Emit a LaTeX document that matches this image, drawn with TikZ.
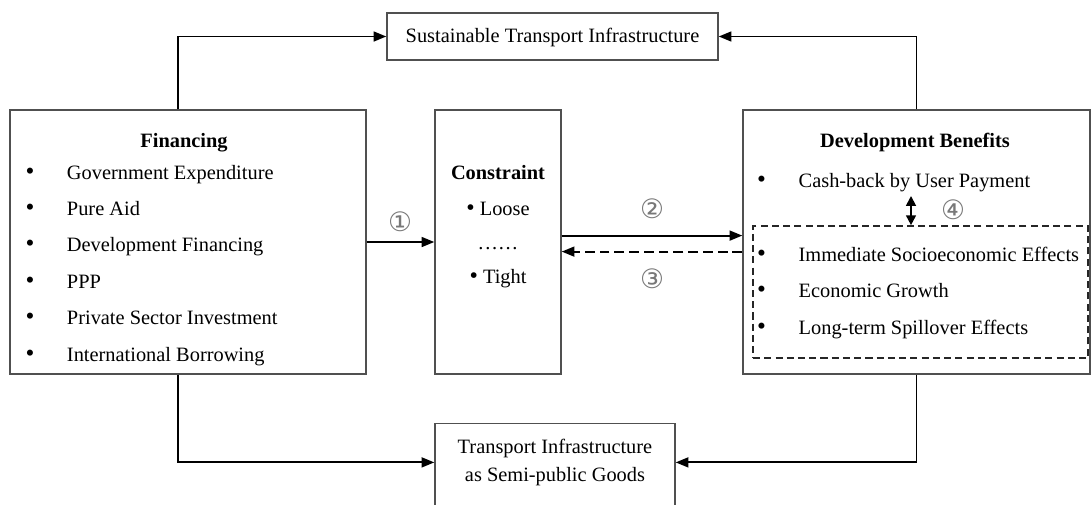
\documentclass[tikz,border=0pt]{standalone}
\usepackage{fontspec}
\setmainfont{Liberation Serif}
\newfontfamily\circfont{DejaVu Sans}
\usetikzlibrary{positioning, arrows.meta, calc}
\definecolor{FrameGray}{RGB}{80,80,80}
\definecolor{NumGray}{RGB}{120,120,120}

\begin{document}
\begin{tikzpicture}[
          bx/.style={rectangle, draw=FrameGray, line width=1pt, inner sep=0pt},
          dbx/.style={rectangle, draw=black!85, line width=1.2pt,
                      dash pattern=on 5pt off 3pt, inner sep=0pt},
          txt/.style={font=\fontsize{14.5}{17}\selectfont, inner sep=0pt,
                      text height=11pt, text depth=2pt},
          hd/.style={txt, font=\fontsize{14.5}{17}\selectfont\bfseries},
          item/.style={txt, anchor=west},
          dot/.style={txt, font=\fontsize{18}{17}\selectfont},
          num/.style={font=\circfont\fontsize{19}{20}\selectfont, text=NumGray,
                      inner sep=0pt},
          arr/.style={-{Triangle[length=9pt, width=7pt]}, line width=1.4pt},
          darr/.style={arr, dash pattern=on 7pt off 3.5pt},
          dbl/.style={{Triangle[length=7pt, width=7pt]}-{Triangle[length=7pt, width=7pt]},
                      line width=1.3pt}
        ]
        \useasboundingbox (0,0) rectangle (27.275,12.6);

        % boxes
        \node[bx, minimum width=8.275cm, minimum height=1.175cm, txt]
              (sti)  at (13.8125, 11.6875) {Sustainable Transport Infrastructure};
        \node[bx, minimum width=8.9cm, minimum height=6.6cm]
              (fin)  at (4.7, 6.55) {};
        \node[bx, minimum width=3.15cm, minimum height=6.6cm]
              (con)  at (12.45, 6.55) {};
        \node[bx, minimum width=8.675cm, minimum height=6.6cm]
              (dev)  at (22.9125, 6.55) {};
        \node[dbx, minimum width=8.375cm, minimum height=3.3cm]
              (effbox) at (23.0125, 5.3) {};
        \node[bx, minimum width=6cm, minimum height=2.4cm, anchor=north]
              (goods) at (13.875, 2.025) {};
        \node[font=\fontsize{14.5}{20.5}\selectfont, align=center, inner sep=0pt]
              (goods-txt) at (13.875, 1.04)
              {Transport Infrastructure\\as Semi-public Goods};

        % financing
        \node[hd] (fin-hd) at (4.6, 9.08) {Financing};
        \foreach \lbl [count=\i] in {Government Expenditure, Pure Aid,
            Development Financing, PPP, Private Sector Investment,
            International Borrowing}{
          \node[dot] (fin-dot-\i) at (0.75, {9.1925-0.91*\i}) {•};
          \node[item] (fin-\i) at (1.667, {9.1925-0.91*\i}) {\lbl};
        }

        % constraint
        \node[hd] (con-hd)    at (12.45, 8.275) {Constraint};
        \node[txt] (loose)    at (12.45, 7.365) {{\fontsize{17}{17}\selectfont•} Loose};
        \node[txt] (con-dots) at (12.45, 6.53)  {.\kern1.2pt.\kern1.2pt.\kern1.2pt.\kern1.2pt.\kern1.2pt.};
        \node[txt] (tight)    at (12.45, 5.68)  {{\fontsize{17}{17}\selectfont•} Tight};

        % development benefits
        \node[hd] (dev-hd) at (22.875, 9.06) {Development Benefits};
        \node[dot]  (cash-dot) at (19.04, 8.06) {•};
        \node[item] (cash)     at (19.96, 8.06) {Cash-back by User Payment};
        \foreach \lbl [count=\i] in {Immediate Socioeconomic Effects,
            Economic Growth, Long-term Spillover Effects}{
          \node[dot] (eff-dot-\i) at (19.04, {7.14-0.915*\i}) {•};
          \node[item] (eff-\i) at (19.96, {7.14-0.915*\i}) {\lbl};
        }

        % numbers
        \node[num] (num-1) at (10.0, 7.05)   {①};
        \node[num] (num-2) at (16.3, 7.375)  {②};
        \node[num] (num-3) at (16.3, 5.625)  {③};
        \node[num] (num-4) at (23.825, 7.35) {④};

        % connectors
        \draw[arr] ([xshift=-0.25cm]fin.north) |- (sti.west);
        \draw[arr] (dev.north) |- (sti.east);
        \draw[arr] ([xshift=-0.25cm]fin.south) |- (goods.west |- goods-txt);
        \draw[arr] (dev.south) |- (goods.east |- goods-txt);
        \draw[arr] (fin) -- (con);

        \coordinate (c2) at ([yshift=0.16cm]con.east);
        \coordinate (c3) at ([yshift=-0.24cm]con.east);
        \draw[arr]  (c2) -- (c2 -| dev.west);
        \draw[darr] (c3 -| dev.west) -- (c3);

        \coordinate (c4) at (22.775, 7.7);
        \draw[dbl] (c4) -- (c4 |- effbox.north);
      \end{tikzpicture}
\end{document}
